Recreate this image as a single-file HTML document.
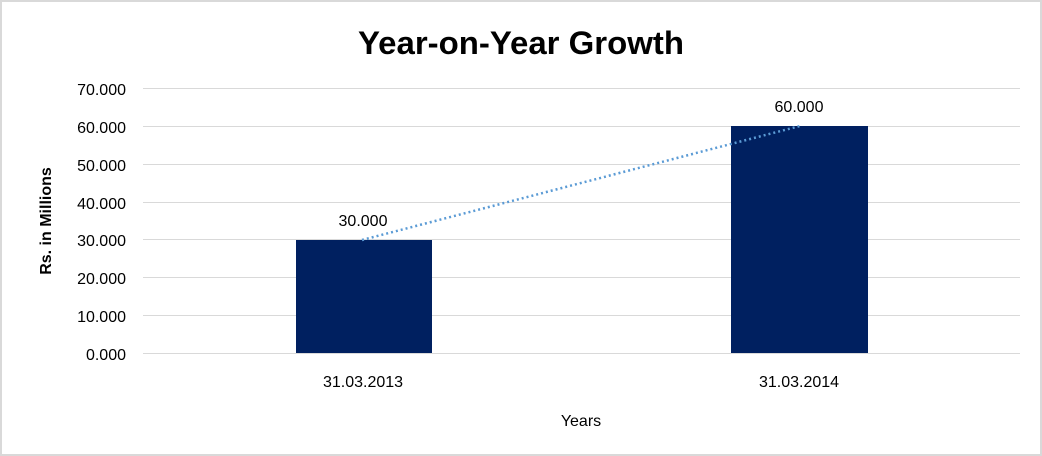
<!DOCTYPE html>
<html><head><style>body{margin:0;background:#fff}svg{display:block}</style></head><body>
<svg width="1042" height="456" xmlns="http://www.w3.org/2000/svg" font-family="Liberation Sans, sans-serif">
<rect x="1" y="1" width="1040" height="454" fill="#fff" stroke="#d9d9d9" stroke-width="2"/>
<text x="358" y="54" font-size="32" font-weight="bold" fill="#000" textLength="326" lengthAdjust="spacingAndGlyphs">Year-on-Year Growth</text>
<g stroke="#d9d9d9" stroke-width="1">
<line x1="143" x2="1020" y1="88.5" y2="88.5"/><line x1="143" x2="1020" y1="126.5" y2="126.5"/>
<line x1="143" x2="1020" y1="164.5" y2="164.5"/><line x1="143" x2="1020" y1="202.5" y2="202.5"/>
<line x1="143" x2="1020" y1="239.5" y2="239.5"/><line x1="143" x2="1020" y1="277.5" y2="277.5"/>
<line x1="143" x2="1020" y1="315.5" y2="315.5"/><line x1="143" x2="1020" y1="353.5" y2="353.5"/>
</g>
<g font-size="16" text-anchor="end" fill="#000">
<text x="126" y="95">70.000</text><text x="126" y="133">60.000</text><text x="126" y="171">50.000</text>
<text x="126" y="209">40.000</text><text x="126" y="246">30.000</text><text x="126" y="284">20.000</text>
<text x="126" y="322">10.000</text><text x="126" y="360">0.000</text>
</g>
<rect x="296" y="240" width="136" height="113" fill="#002060"/>
<rect x="731" y="126" width="137" height="227" fill="#002060"/>
<line x1="362" y1="240" x2="800" y2="126" stroke="#5b9bd5" stroke-width="2.5" stroke-dasharray="2,3"/>
<g font-size="16" text-anchor="middle" fill="#000">
<text x="363" y="226">30.000</text><text x="799" y="112">60.000</text>
<text x="363" y="387">31.03.2013</text><text x="799" y="387">31.03.2014</text>
<text x="581" y="426">Years</text>
</g>
<text transform="translate(51,221) rotate(-90)" font-size="16" text-anchor="middle" font-weight="bold" fill="#000">Rs. in Millions</text>
</svg>
</body></html>
